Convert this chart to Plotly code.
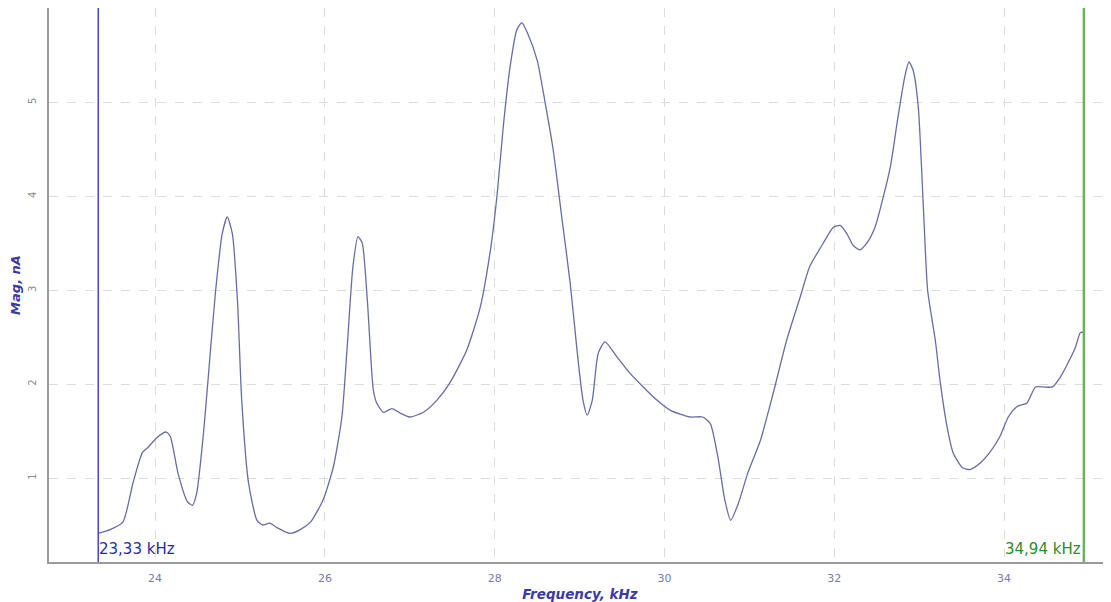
import plotly.graph_objects as go

# Frequency (kHz) and magnitude (nA)
freq_khz = [23.33, 23.47, 23.62, 23.74, 23.85, 23.92, 24.02, 24.13, 24.18, 24.27,
            24.38, 24.44, 24.49, 24.57, 24.62, 24.71, 24.79, 24.85, 24.91, 24.97,
            25.02, 25.10, 25.20, 25.27, 25.35, 25.44, 25.59, 25.71, 25.83, 25.98,
            26.10, 26.20, 26.26, 26.33, 26.39, 26.44, 26.50, 26.57, 26.61, 26.69,
            26.79, 26.89, 27.00, 27.16, 27.32, 27.47, 27.67, 27.83, 27.95, 28.03,
            28.10, 28.18, 28.26, 28.32, 28.39, 28.50, 28.59, 28.69, 28.79, 28.89,
            28.97, 29.04, 29.09, 29.15, 29.22, 29.30, 29.44, 29.59, 29.75, 29.91,
            30.07, 30.30, 30.45, 30.54, 30.63, 30.71, 30.78, 30.87, 30.98, 31.13,
            31.28, 31.44, 31.60, 31.71, 31.87, 31.99, 32.07, 32.15, 32.22, 32.30,
            32.39, 32.48, 32.56, 32.66, 32.75, 32.83, 32.88, 32.93, 32.99, 33.05,
            33.10, 33.19, 33.25, 33.33, 33.40, 33.51, 33.60, 33.72, 33.83, 33.95,
            34.05, 34.15, 34.27, 34.37, 34.46, 34.57, 34.66, 34.75, 34.84, 34.90,
            34.94]
mag_na = [0.41, 0.45, 0.53, 0.95, 1.27, 1.33, 1.43, 1.49, 1.44, 1.05,
          0.75, 0.71, 0.84, 1.48, 2.01, 2.97, 3.60, 3.78, 3.60, 2.89,
          1.83, 0.95, 0.55, 0.50, 0.52, 0.47, 0.41, 0.45, 0.53, 0.77,
          1.12, 1.65, 2.36, 3.25, 3.57, 3.50, 2.89, 1.94, 1.80, 1.70,
          1.74, 1.69, 1.65, 1.70, 1.83, 2.01, 2.36, 2.82, 3.43, 4.03,
          4.73, 5.37, 5.77, 5.85, 5.73, 5.45, 5.02, 4.49, 3.78, 3.07,
          2.36, 1.83, 1.67, 1.83, 2.33, 2.45, 2.29, 2.12, 1.97, 1.83,
          1.72, 1.65, 1.65, 1.58, 1.22, 0.77, 0.55, 0.73, 1.05, 1.40,
          1.90, 2.47, 2.93, 3.25, 3.50, 3.67, 3.69, 3.60, 3.48, 3.43,
          3.51, 3.67, 3.93, 4.31, 4.84, 5.27, 5.43, 5.34, 4.95, 3.88,
          3.00, 2.47, 2.01, 1.54, 1.27, 1.11, 1.09, 1.16, 1.27, 1.44,
          1.65, 1.76, 1.80, 1.97, 1.97, 1.97, 2.07, 2.22, 2.39, 2.55,
          2.55]

marker_left = 23.33
marker_right = 34.94
marker_left_label = "23,33 kHz"
marker_right_label = "34,94 kHz"

x_range = [22.75, 35.26]
y_range = [0.106, 6.005]

FONT = "DejaVu Sans, Verdana, sans-serif"

fig = go.Figure()
fig.add_trace(go.Scatter(
    x=freq_khz, y=mag_na, mode="lines",
    line=dict(color="#6b6ba3", width=1.3, shape="spline", smoothing=0.6),
    showlegend=False, hoverinfo="x+y"))

# cursor lines
fig.add_shape(type="line", xref="x", yref="paper", x0=marker_left, x1=marker_left,
              y0=0, y1=1, line=dict(color="#4848b8", width=1.5))
fig.add_shape(type="line", xref="x", yref="paper", x0=marker_right, x1=marker_right,
              y0=0, y1=1, line=dict(color="#6cb35c", width=2.5))

fig.add_annotation(x=marker_left, y=0.024, xref="x", yref="paper", text=marker_left_label,
                   showarrow=False, xanchor="left", yanchor="middle", xshift=-1,
                   font=dict(family=FONT, size=15, color="#2a2a9a"))
fig.add_annotation(x=marker_right, y=0.024, xref="x", yref="paper", text=marker_right_label,
                   showarrow=False, xanchor="right", yanchor="middle", xshift=-1,
                   font=dict(family=FONT, size=15, color="#2e8a2e"))

# page body has an 8px margin: size/margins compensate so the plot area
# lands at x 49..1111, y 8..562 in the window
fig.update_layout(
    width=1103, height=594,
    margin=dict(l=41, r=0, t=0, b=40),
    paper_bgcolor="white", plot_bgcolor="white",
    font=dict(family=FONT, size=10, color="#888888"),
    xaxis=dict(
        range=x_range, tickmode="linear", tick0=24, dtick=2,
        showgrid=True, gridcolor="#dcdcdc", griddash="dash", gridwidth=1,
        showline=True, linecolor="#9a9a9a", linewidth=2,
        ticks="", ticklabelstandoff=5, tickfont=dict(size=11, color="#7a7aa8"),
        zeroline=False,
        title=dict(text="<b><i>Frequency, kHz</i></b>", standoff=6,
                   font=dict(family=FONT, size=13.5, color="#3a3aa0")),
    ),
    yaxis=dict(
        range=y_range, tickmode="linear", tick0=0, dtick=1,
        showgrid=True, gridcolor="#dcdcdc", griddash="dash", gridwidth=1,
        showline=True, linecolor="#9a9a9a", linewidth=2,
        ticks="", tickangle=-90, ticklabelstandoff=7,
        tickfont=dict(size=10, color="#8a8a8a"),
        zeroline=False,
        title=dict(text="<b><i>Mag, nA</i></b>", standoff=7,
                   font=dict(family=FONT, size=13, color="#3a3aa0")),
    ),
)

fig.write_html("out.html")
